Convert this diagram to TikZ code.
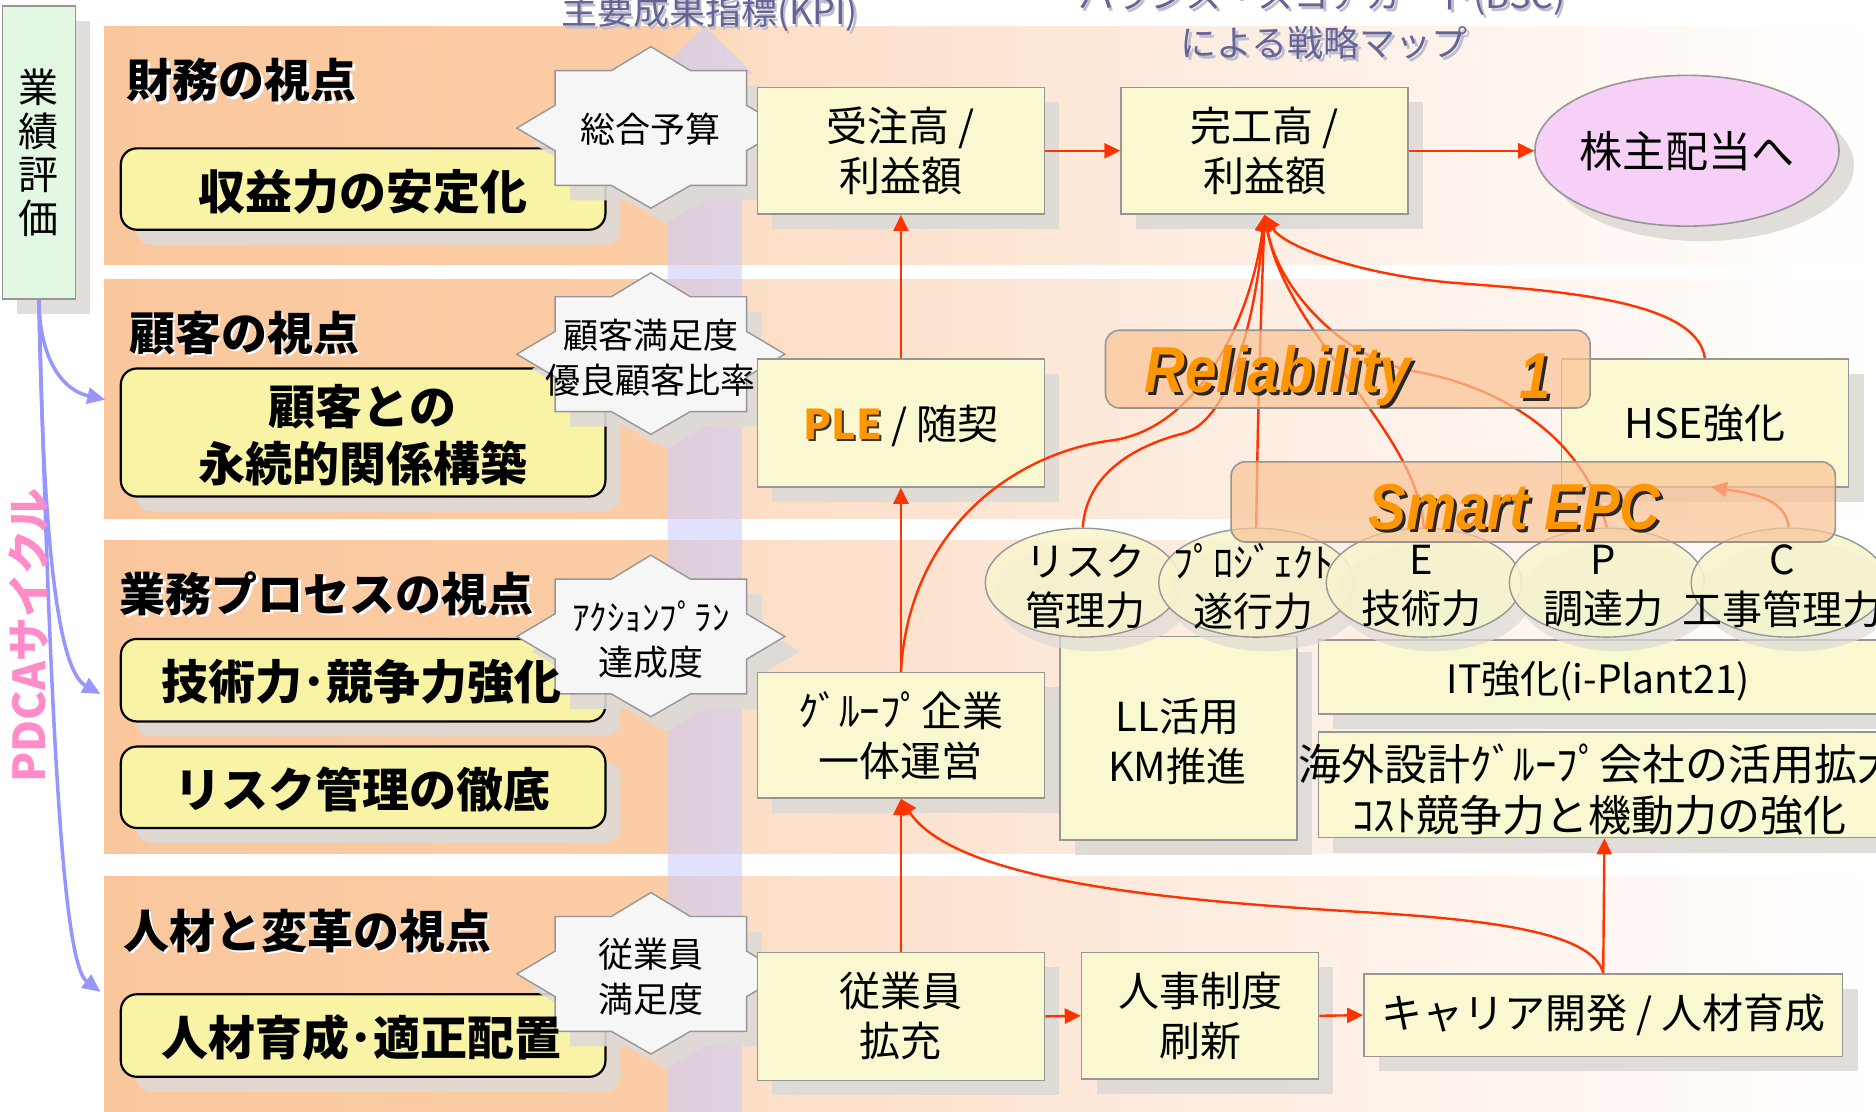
\documentclass[tikz,border=0pt]{standalone}
\usepackage{fontspec}
\setmainfont{Noto Sans CJK JP}
\newfontfamily\latfont{Liberation Sans}
\usetikzlibrary{arrows.meta,shadows,shapes.geometric}
\definecolor{peachA}{RGB}{250,199,157}
\definecolor{peachB}{RGB}{251,205,166}
\definecolor{peachC}{RGB}{252,222,198}
\definecolor{peachD}{RGB}{253,236,224}
\definecolor{peachE}{RGB}{255,249,246}
\definecolor{redline}{RGB}{255,51,0}
\definecolor{blueline}{RGB}{150,150,255}
\definecolor{pdcapink}{RGB}{255,140,200}
\definecolor{titlecol}{RGB}{100,100,150}
\definecolor{titlesh}{RGB}{190,190,205}
\definecolor{gboxfill}{RGB}{226,248,226}
\definecolor{rboxfill}{RGB}{249,243,166}
\definecolor{yboxfill}{RGB}{250,248,208}
\definecolor{starfill}{RGB}{246,246,246}
\definecolor{kabufill}{RGB}{246,208,246}
\definecolor{elfill}{RGB}{248,245,205}
\definecolor{relfill}{RGB}{250,196,150}
\definecolor{boxgray}{RGB}{150,150,150}
\definecolor{shgray}{RGB}{222,218,214}
\definecolor{orangetxt}{RGB}{255,150,0}
\definecolor{kpicol}{RGB}{205,205,250}
\def\dpx{1.1964pt}
\newcommand\fsz[2]{\fontsize{#1}{#2}\selectfont}
\newcommand\drawband[2]{%
 \shade[left color=peachA,right color=peachB] (87,#1) rectangle (556,#2);
 \shade[left color=peachB,right color=peachC] (555,#1) rectangle (626,#2);
 \shade[left color=peachC,right color=peachD] (625,#1) rectangle (1001,#2);
 \shade[left color=peachD,right color=peachE] (1000,#1) rectangle (1401,#2);
 \shade[left color=peachE,right color=white] (1400,#1) rectangle (1568,#2);}
\newcommand\octstar[1]{%
 \filldraw[draw=boxgray, line width=1.4pt, fill=starfill, shift={#1}, shad]
   (0,-68) -- (33,-48) -- (80,-48) -- (80,-19) -- (112,0) -- (80,19) -- (80,48) -- (33,48) -- (0,67) -- (-33,48) -- (-80,48) -- (-80,19) -- (-112,0) -- (-80,-19) -- (-80,-48) -- (-33,-48) -- cycle;}
\newcommand\narrow[1]{\scalebox{0.87}[1]{#1}}
\tikzset{
  shad/.style={drop shadow={shadow xshift=15pt, shadow yshift=-15pt, fill=shgray, opacity=0.9}},
  ybox/.style={draw=boxgray, line width=1.6pt, fill=yboxfill, inner sep=0pt, align=center, shad, font=\fsz{41}{50}},
  rbox/.style={draw=black, line width=2.2pt, fill=rboxfill, rounded corners=16pt, inner sep=0pt, minimum width=405*\dpx, shad},
  rtxt/.style={font=\bfseries\fsz{47}{57}, align=center, inner sep=0pt},
  hdr/.style={font=\bfseries\fsz{46}{50}, inner sep=0pt},
  redarr/.style={draw=redline, line width=2.4pt, -{Triangle[length=16pt,width=15pt]}},
  bluearr/.style={draw=blueline, line width=3.5pt, -{Triangle[length=18pt,width=16pt]}},
  startxt/.style={font=\fsz{35}{45}, align=center, inner sep=0pt},
  eltxt/.style={font=\fsz{40}{49}, align=center, inner sep=0pt},
  smell/.style={ellipse, draw=boxgray, line width=1.4pt, fill=elfill, fill opacity=0.85, minimum width=163*\dpx, minimum height=91*\dpx, inner sep=0pt, drop shadow={shadow xshift=10pt, shadow yshift=-14pt, fill=shgray, opacity=0.7}},
  obox/.style={draw=boxgray, line width=1.6pt, fill=relfill, fill opacity=0.72, rounded corners=14pt, inner sep=0pt},
  otxt/.style={font=\latfont\bfseries\itshape\fsz{65}{70}, text=orangetxt, inner sep=0pt},
  osh/.style={font=\latfont\bfseries\itshape\fsz{65}{70}, text=black!85, inner sep=0pt},
  ttl/.style={font=\fsz{36}{42}, text=titlecol, align=center, inner sep=0pt},
  ttlsh/.style={font=\fsz{36}{42}, text=titlesh, align=center, inner sep=0pt},
}
\begin{document}
\begin{tikzpicture}[x=1.1964pt,y=-1.1964pt]
\useasboundingbox (0,0) rectangle (1568,929);
\clip (0,0) rectangle (1568,929);
\fill[white] (0,0) rectangle (1568,929);
% bands
\drawband{22}{221}
\drawband{234}{433}
\drawband{452}{713}
\drawband{733}{935}
% KPI column
\fill[kpicol, opacity=0.6] (589,22) -- (630,62) -- (620,62) -- (620,935) -- (558,935) -- (558,62) -- (548,62) -- cycle;
% titles
\node[ttlsh] at (595,13) {主要成果指標(KPI)};
\node[ttl] (kpi) at (593,11) {主要成果指標(KPI)};
\node[ttlsh] at (1107,0) {バランス・スコアカード(BSC)};
\node[ttl] (bsc1) at (1105,-2) {バランス・スコアカード(BSC)};
\node[ttlsh] at (1109,38) {による戦略マップ};
\node[ttl] (bsc2) at (1107,36) {による戦略マップ};
% left evaluation box
\node[draw=boxgray, line width=1.4pt, fill=gboxfill, minimum width=61*\dpx, minimum height=245*\dpx, inner sep=0pt, align=center, shad, font=\fsz{40}{43.5}] (gbox) at (32.5,127.5) {業\\績\\評\\価};
% PDCA arrows
\coordinate (pa1) at (88,334);
\coordinate (pa2) at (84,580);
\coordinate (pa3) at (84,829);
\draw[bluearr] (gbox.south) .. controls (33,300) and (52,326) .. (pa1);
\draw[bluearr] (gbox.south) .. controls (36,450) and (48,560) .. (pa2);
\draw[bluearr] (gbox.south) .. controls (42,600) and (52,805) .. (pa3);
\node[rotate=90, text=pdcapink, font=\bfseries\fsz{44}{48}, inner sep=0pt] (pdca) at (24,531) {PDCAサイクル};
% left rounded boxes
\node[rbox, minimum height=68*\dpx] (rb1) at (303.5,158) {};
\node[rbox, minimum height=107*\dpx] (rb2) at (303.5,361.5) {};
\node[rbox, minimum height=69*\dpx] (rb3) at (303.5,568.5) {};
\node[rbox, minimum height=68*\dpx] (rb4) at (303.5,658) {};
\node[rbox, minimum height=69*\dpx] (rb5) at (303.5,865.5) {};
% stars
\octstar{(544,107)}
\octstar{(544,296)}
\octstar{(544,532)}
\octstar{(544,814)}
\node[startxt] (s1) at (544,108) {総合予算};
\node[startxt] (s2) at (544,299) {顧客満足度\\優良顧客比率};
\node[startxt] (s3) at (544,535) {ｱｸｼｮﾝﾌﾟﾗﾝ\\達成度};
\node[startxt] (s4) at (544,816) {従業員\\満足度};
% headers
\foreach \p/\t in {{(202,67)}/財務の視点, {(204,278)}/顧客の視点, {(273,496)}/業務プロセスの視点, {(257,778)}/人材と変革の視点}{
  \node[hdr, text=white, xshift=2.5pt, yshift=-2.5pt] at \p {\t};
  \node[hdr] at \p {\t};
}
% left box texts
\node[rtxt] (rb1t) at (303,160) {収益力の安定化};
\node[rtxt] (rb2t) at (303,364) {顧客との\\永続的関係構築};
\node[rtxt] (rb3t) at (302,570) {技術力･競争力強化};
\node[rtxt] (rb4t) at (303,660) {リスク管理の徹底};
\node[rtxt] (rb5t) at (302,867) {人材育成･適正配置};
% column boxes
\node[ybox, minimum width=240*\dpx, minimum height=106*\dpx] (juchu) at (753,126) {受注高 /\\利益額};
\node[ybox, minimum width=240*\dpx, minimum height=106*\dpx] (kanko) at (1057,126) {完工高 /\\利益額};
\node[ellipse, draw=boxgray, line width=1.6pt, fill=kabufill, minimum width=248*\dpx, minimum height=126*\dpx, inner sep=0pt, shad, font=\fsz{43}{50}] (kabu) at (1410,126) {株主配当へ};
\node[ybox, minimum width=240*\dpx, minimum height=107*\dpx] (ple) at (753,353.5) {};
\node[font=\fsz{41}{50}, inner sep=0pt, text=black!80, xshift=2pt, yshift=-2pt] at (753,356) {\textbf{PLE}\phantom{ / 随契}};
\node[font=\fsz{41}{50}, inner sep=0pt] (plet) at (753,356) {\textcolor{orangetxt}{\textbf{PLE}} / 随契};
\node[ybox, minimum width=240*\dpx, minimum height=105*\dpx] (group) at (753,614.5) {ｸﾞﾙｰﾌﾟ企業\\一体運営};
\node[ybox, minimum width=240*\dpx, minimum height=107*\dpx] (jugyo) at (753,849.5) {従業員\\拡充};
\node[ybox, minimum width=198*\dpx, minimum height=106*\dpx] (jinji) at (1003,849) {人事制度\\刷新};
\node[ybox, minimum width=400*\dpx, minimum height=69*\dpx, font=\fsz{41}{46}] (career) at (1340,848.5) {キャリア開発 / 人材育成};
\node[ybox, minimum width=240*\dpx, minimum height=107*\dpx, font=\fsz{41}{48}] (hse) at (1425,353.5) {HSE強化};
\node[ybox, minimum width=198*\dpx, minimum height=170*\dpx] (ll) at (985,617) {};
\node[ybox, minimum width=478*\dpx, minimum height=62*\dpx] (it) at (1341,566) {};
\node[ybox, minimum width=478*\dpx, minimum height=88*\dpx] (kaigai) at (1341,656) {};
\node[font=\fsz{40}{50}, align=center, inner sep=0pt] (llt) at (984,620) {LL活用\\KM推進};
\node[font=\fsz{39}{44}, inner sep=0pt] (itt) at (1336,569) {IT強化(i-Plant21)};
\node[font=\fsz{43}{51}, align=center, inner sep=0pt] (kaigait) at (1337,660) {海外設計ｸﾞﾙｰﾌﾟ会社の活用拡大\\ｺｽﾄ競争力と機動力の強化};
% small ellipses
\node[smell] (e1) at (905,487) {};
\node[smell] (e2) at (1050,487) {};
\node[smell] (e3) at (1190,487) {};
\node[smell] (e4) at (1343,487) {};
\node[smell] (e5) at (1495,487) {};
% red curves into kanko
\draw[redarr] (group.north) .. controls (760,440) and (850,378) .. (930,368) .. controls (1000,358) and (1045,270) .. (kanko.south);
\draw[redarr] (e1.north) .. controls (908,395) and (950,372) .. (990,362) .. controls (1030,350) and (1050,260) .. (kanko.south);
\draw[redarr] (e2.north) .. controls (1051,350) and (1054,260) .. (kanko.south);
\draw[redarr] (e3.north) .. controls (1185,360) and (1075,280) .. (kanko.south);
\draw[redarr] (e4.north) .. controls (1320,350) and (1230,318) .. (1180,310) .. controls (1120,298) and (1068,240) .. (kanko.south);
\draw[redarr] (hse.north) .. controls (1418,250) and (1300,243) .. (1210,236) .. controls (1130,228) and (1072,205) .. (kanko.south);
\coordinate (cin) at (1430,407);
\draw[redarr] (e5.north) .. controls (1493,418) and (1468,413) .. (cin);
% orange boxes
\node[obox, minimum width=405*\dpx, minimum height=65*\dpx] (rel) at (1126.5,308.5) {};
\node[obox, minimum width=505*\dpx, minimum height=67*\dpx] (smart) at (1281.5,419.5) {};
\node[osh, xshift=3pt, yshift=-3pt] at (1068,314) {\narrow{Reliability}};
\node[otxt] (relt) at (1068,314) {\narrow{Reliability}};
\node[osh, xshift=3pt, yshift=-3pt] at (1283,314) {\narrow{1}};
\node[otxt] (relone) at (1283,314) {\narrow{1}};
\node[osh, xshift=3pt, yshift=-3pt] at (1266,424) {\narrow{Smart EPC}};
\node[otxt] (smartt) at (1266,424) {\narrow{Smart EPC}};
% ellipse texts
\node[eltxt] (e1t) at (907,490) {リスク\\管理力};
\node[eltxt] (e2t) at (1048,490) {ﾌﾟﾛｼﾞｪｸﾄ\\遂行力};
\node[eltxt] (e3t) at (1188,490) {E\\技術力};
\node[eltxt] (e4t) at (1340,490) {P\\調達力};
\node[eltxt] (e5t) at (1490,490) {C\\工事管理力};
% straight arrows
\draw[redarr] (juchu.east) -- (kanko.west);
\draw[redarr] (kanko.east) -- (kabu.west);
\draw[redarr] (ple.north) -- (juchu.south);
\draw[redarr] (group.north) -- (ple.south);
\draw[redarr] (jugyo.north) -- (group.south);
\draw[redarr] (jugyo.east) -- (jinji.west);
\draw[redarr] (jinji.east) -- (career.west);
\draw[redarr] (career.north) -- (kaigai.south);
\draw[redarr] (career.north) .. controls (1332,782) and (1260,770) .. (1150,763) .. controls (1000,754) and (800,740) .. (group.south);
\end{tikzpicture}
\end{document}
